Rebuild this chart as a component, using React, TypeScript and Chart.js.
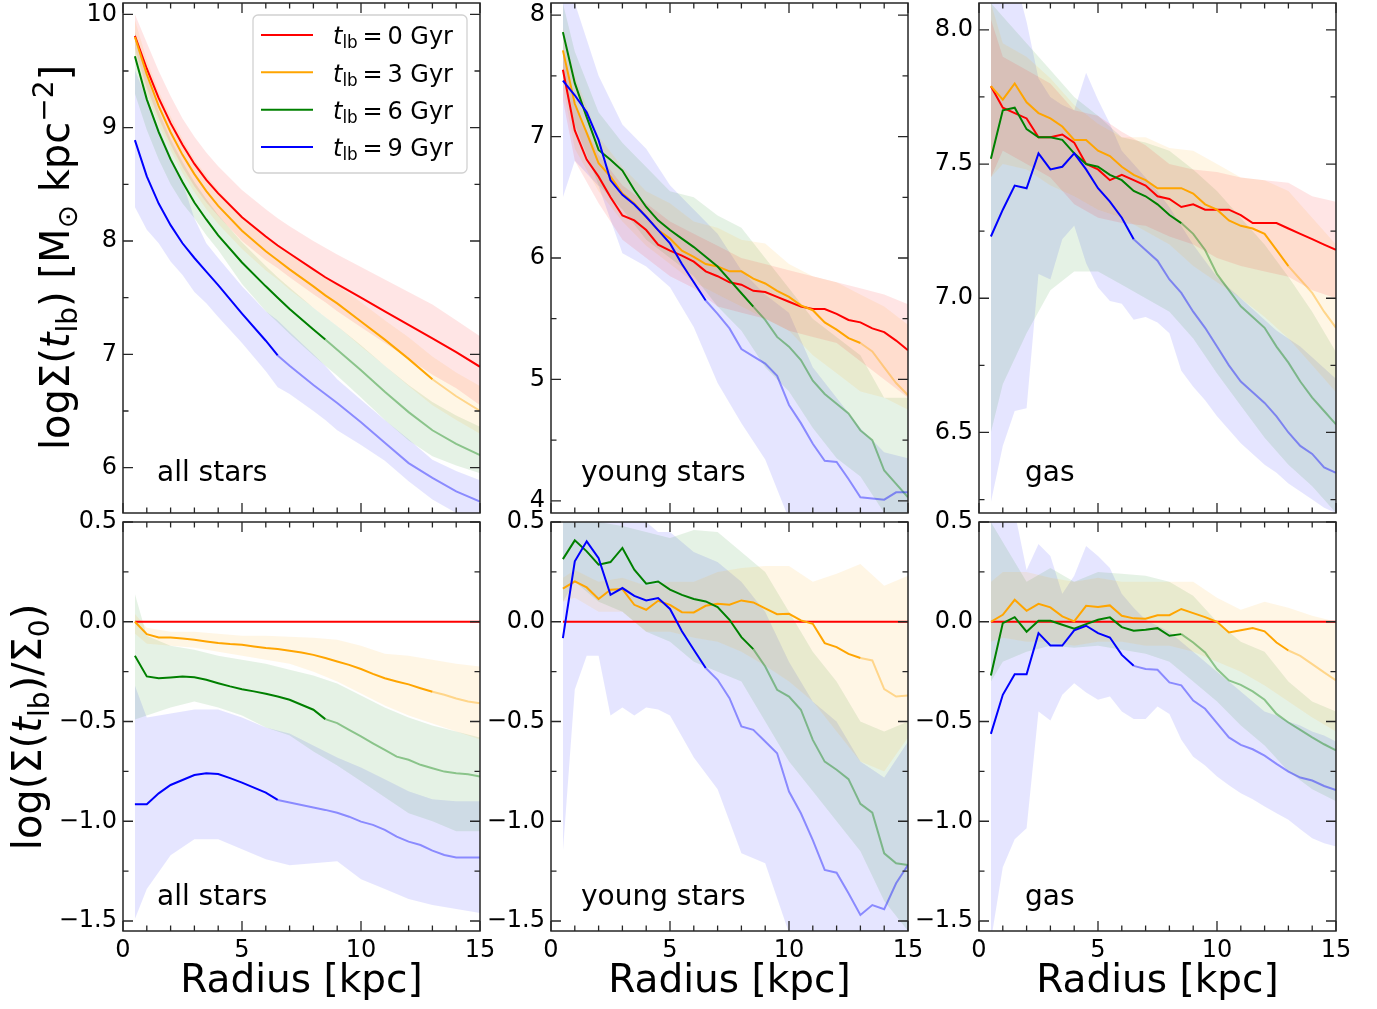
import React, { useEffect, useRef } from "react";
import { Chart, registerables } from "chart.js";
Chart.register(...registerables);

const FONT = "'DejaVu Sans', 'Liberation Sans', sans-serif";

// ---------- radial grids (kpc) ----------
const R_SMOOTH = [0.5, 1, 1.5, 2, 2.5, 3, 3.5, 4, 5, 6, 6.5, 7, 8, 8.5, 9, 10, 11, 12, 13, 14, 15];
const R_HALF = [0.5, 1, 1.5, 2, 2.5, 3, 3.5, 4, 4.5, 5, 5.5, 6, 6.5, 7, 7.5, 8, 8.5, 9, 9.5, 10, 10.5, 11, 11.5, 12, 12.5, 13, 13.5, 14, 14.5, 15];
const R_BAND = [0.5, 1, 2, 3, 4, 5, 6, 7, 8, 9, 10, 11, 12, 13, 14, 15];
const R_P5B = [0.5, 1, 1.5, 2, 2.5, 3, 3.5, 4, 4.5, 5, 6, 7, 8, 9, 10, 11, 12, 13, 14, 15];

// ---------- series meta ----------
const LOOKBACK_GYR = ["0", "3", "6", "9"];
const COLORS = ["#ff0000", "#ffa500", "#008000", "#0000ff"];
const FADED = ["rgba(255,0,0,0.4)", "rgba(255,165,0,0.4)", "rgba(0,128,0,0.4)", "rgba(0,0,255,0.4)"];
const BAND_COLORS = ["rgba(255,0,0,0.1)", "rgba(255,165,0,0.1)", "rgba(0,128,0,0.1)", "rgba(0,0,255,0.1)"];
const SOLID_UNTIL = [15, 13, 8.5, 6.5];

// ---------- panel 1: all stars, log Sigma ----------
const P1_RED = [9.81, 9.52, 9.26, 9.04, 8.85, 8.68, 8.54, 8.42, 8.21, 8.04, 7.96, 7.89, 7.75, 7.68, 7.62, 7.50, 7.38, 7.26, 7.14, 7.02, 6.89];
const P1_ORANGE = [9.80, 9.47, 9.19, 8.96, 8.76, 8.59, 8.44, 8.31, 8.09, 7.91, 7.83, 7.75, 7.60, 7.52, 7.45, 7.29, 7.13, 6.96, 6.78, 6.63, 6.50];
const P1_GREEN = [9.63, 9.25, 8.96, 8.72, 8.52, 8.34, 8.19, 8.05, 7.81, 7.60, 7.50, 7.40, 7.22, 7.13, 7.04, 6.86, 6.67, 6.49, 6.33, 6.21, 6.11];
const P1_BLUE = [8.89, 8.57, 8.33, 8.14, 7.98, 7.85, 7.73, 7.61, 7.36, 7.12, 6.99, 6.90, 6.73, 6.65, 6.57, 6.40, 6.22, 6.04, 5.91, 5.79, 5.70];
const P1_RED_HI = [10.0, 9.75, 9.5, 9.28, 9.08, 8.92, 8.78, 8.66, 8.45, 8.28, 8.2, 8.13, 8.0, 7.94, 7.88, 7.77, 7.66, 7.55, 7.44, 7.3, 7.16];
const P1_RED_LO = [9.7, 9.35, 9.08, 8.85, 8.65, 8.48, 8.34, 8.22, 8.0, 7.83, 7.76, 7.68, 7.53, 7.46, 7.38, 7.24, 7.1, 6.96, 6.82, 6.7, 6.55];
const P1_ORANGE_HI = [9.95, 9.6, 9.32, 9.1, 8.9, 8.72, 8.58, 8.45, 8.22, 8.05, 7.97, 7.9, 7.75, 7.68, 7.61, 7.46, 7.3, 7.15, 6.98, 6.84, 6.72];
const P1_ORANGE_LO = [9.65, 9.3, 9.02, 8.8, 8.6, 8.43, 8.28, 8.15, 7.93, 7.74, 7.66, 7.57, 7.41, 7.33, 7.25, 7.07, 6.9, 6.72, 6.55, 6.42, 6.3];
const P1_GREEN_HI = [9.85, 9.45, 9.15, 8.9, 8.7, 8.52, 8.37, 8.23, 7.99, 7.78, 7.68, 7.59, 7.41, 7.33, 7.25, 7.08, 6.9, 6.73, 6.58, 6.46, 6.36];
const P1_GREEN_LO = [9.3, 8.98, 8.72, 8.5, 8.33, 8.2, 8.05, 7.92, 7.62, 7.38, 7.28, 7.18, 6.99, 6.9, 6.81, 6.62, 6.42, 6.24, 6.1, 6.02, 5.95];
const P1_BLUE_HI = [9.51, 9.25, 9.0, 8.75, 8.52, 8.2, 7.98, 7.85, 7.6, 7.38, 7.3, 7.2, 7.0, 6.9, 6.78, 6.6, 6.42, 6.25, 6.07, 5.97, 5.89];
const P1_BLUE_LO = [8.30, 8.1, 7.98, 7.82, 7.7, 7.55, 7.45, 7.33, 7.1, 6.85, 6.71, 6.65, 6.5, 6.42, 6.33, 6.2, 6.06, 5.88, 5.72, 5.6, 5.5];

// ---------- panel 2: young stars, log Sigma ----------
const P2_RED = [7.55, 7.05, 6.81, 6.67, 6.50, 6.35, 6.31, 6.23, 6.11, 6.06, 6.02, 5.97, 5.89, 5.85, 5.80, 5.78, 5.73, 5.72, 5.68, 5.64, 5.60, 5.58, 5.58, 5.54, 5.49, 5.47, 5.42, 5.39, 5.32, 5.24];
const P2_ORANGE = [7.71, 7.27, 7.03, 6.78, 6.67, 6.53, 6.45, 6.34, 6.23, 6.16, 6.06, 6.01, 5.95, 5.93, 5.89, 5.89, 5.83, 5.79, 5.73, 5.68, 5.61, 5.57, 5.47, 5.41, 5.34, 5.30, 5.23, 5.10, 4.97, 4.87];
const P2_GREEN = [7.86, 7.44, 7.16, 6.89, 6.81, 6.72, 6.56, 6.42, 6.31, 6.23, 6.16, 6.09, 6.01, 5.93, 5.82, 5.71, 5.60, 5.49, 5.35, 5.27, 5.16, 4.99, 4.88, 4.80, 4.72, 4.58, 4.50, 4.25, 4.14, 4.03];
const P2_BLUE = [7.46, 7.34, 7.20, 6.97, 6.64, 6.52, 6.44, 6.34, 6.23, 6.12, 5.95, 5.80, 5.65, 5.54, 5.42, 5.25, 5.19, 5.13, 5.03, 4.79, 4.64, 4.47, 4.33, 4.32, 4.18, 4.03, 4.02, 4.01, 4.07, 4.07];
const P2_RED_HI = [7.7, 7.25, 6.85, 6.6, 6.45, 6.3, 6.2, 6.1, 6.0, 5.95, 5.9, 5.85, 5.8, 5.75, 5.7, 5.62];
const P2_RED_LO = [7.3, 6.8, 6.45, 6.15, 6.0, 5.85, 5.75, 5.6, 5.55, 5.5, 5.4, 5.35, 5.3, 5.15, 5.0, 4.85];
const P2_ORANGE_HI = [7.9, 7.5, 7.0, 6.75, 6.55, 6.45, 6.3, 6.25, 6.15, 6.12, 5.95, 5.85, 5.8, 5.7, 5.6, 5.45];
const P2_ORANGE_LO = [7.4, 6.9, 6.55, 6.3, 6.1, 5.95, 5.8, 5.7, 5.6, 5.5, 5.4, 5.2, 5.05, 4.9, 4.85, 4.75];
const P2_GREEN_HI = [8.1, 7.7, 7.2, 6.95, 6.75, 6.55, 6.5, 6.35, 6.25, 6.0, 5.75, 5.5, 5.35, 5.2, 4.85, 4.85];
const P2_GREEN_LO = [7.5, 7.1, 6.6, 6.4, 6.15, 6.0, 5.85, 5.6, 5.4, 5.1, 4.9, 4.6, 4.35, 4.2, 3.9, 3.8];
const P2_BLUE_HI = [8.3, 8.1, 7.5, 7.1, 6.9, 6.6, 6.4, 6.2, 5.9, 5.7, 5.55, 5.1, 4.85, 4.6, 4.4, 4.35];
const P2_BLUE_LO = [6.5, 6.8, 6.59, 6.04, 5.93, 5.76, 5.43, 4.97, 4.64, 4.34, 3.85, 3.7, 3.7, 3.7, 3.7, 3.7];

// ---------- panel 3: gas, log Sigma ----------
const P3_RED = [7.79, 7.71, 7.69, 7.67, 7.60, 7.60, 7.61, 7.58, 7.50, 7.48, 7.44, 7.46, 7.44, 7.42, 7.38, 7.37, 7.34, 7.35, 7.33, 7.33, 7.33, 7.31, 7.28, 7.28, 7.28, 7.26, 7.24, 7.22, 7.20, 7.18];
const P3_ORANGE = [7.79, 7.74, 7.80, 7.73, 7.69, 7.67, 7.64, 7.59, 7.59, 7.55, 7.53, 7.49, 7.46, 7.44, 7.41, 7.41, 7.41, 7.39, 7.35, 7.33, 7.29, 7.27, 7.26, 7.24, 7.18, 7.12, 7.07, 7.02, 6.95, 6.89];
const P3_GREEN = [7.52, 7.70, 7.71, 7.63, 7.60, 7.60, 7.59, 7.54, 7.50, 7.49, 7.46, 7.44, 7.40, 7.38, 7.35, 7.31, 7.28, 7.24, 7.18, 7.09, 7.03, 6.97, 6.93, 6.89, 6.82, 6.76, 6.69, 6.63, 6.58, 6.53];
const P3_BLUE = [7.23, 7.33, 7.42, 7.41, 7.54, 7.48, 7.49, 7.54, 7.48, 7.41, 7.36, 7.30, 7.22, 7.18, 7.14, 7.07, 7.02, 6.95, 6.89, 6.82, 6.75, 6.69, 6.65, 6.61, 6.56, 6.50, 6.45, 6.42, 6.37, 6.35];
const P3_RED_HI = [8.04, 7.9, 7.85, 7.8, 7.7, 7.68, 7.62, 7.57, 7.5, 7.48, 7.47, 7.45, 7.44, 7.43, 7.38, 7.36];
const P3_RED_LO = [7.45, 7.55, 7.5, 7.45, 7.35, 7.3, 7.28, 7.27, 7.23, 7.2, 7.15, 7.12, 7.1, 7.08, 7.03, 7.0];
const P3_ORANGE_HI = [8.1, 7.95, 7.9, 7.82, 7.72, 7.65, 7.6, 7.6, 7.56, 7.55, 7.5, 7.45, 7.44, 7.4, 7.3, 7.2];
const P3_ORANGE_LO = [7.45, 7.5, 7.48, 7.42, 7.38, 7.33, 7.3, 7.25, 7.2, 7.12, 7.06, 7.0, 6.93, 6.85, 6.75, 6.65];
const P3_GREEN_HI = [8.1, 8.05, 7.95, 7.85, 7.75, 7.68, 7.6, 7.58, 7.55, 7.48, 7.4, 7.3, 7.2, 7.08, 6.95, 6.8];
const P3_GREEN_LO = [6.5, 6.68, 6.87, 7.03, 7.1, 7.1, 7.05, 7.0, 6.95, 6.85, 6.72, 6.6, 6.48, 6.38, 6.3, 6.2];
const P3_BLUE_HI = [8.3, 8.3, 8.2, 8.03, 7.82, 7.75, 7.72, 7.70, 7.84, 7.74, 7.65, 7.55, 7.5, 7.45, 7.4, 7.34, 7.27, 7.2, 7.14, 7.08, 7.04, 7.0, 6.96, 6.92, 6.88, 6.85, 6.82, 6.78, 6.74, 6.7];
const P3_BLUE_LO = [6.24, 6.45, 6.58, 6.59, 7.09, 7.07, 7.22, 7.27, 7.13, 7.04, 6.99, 6.98, 6.92, 6.93, 6.91, 6.87, 6.73, 6.67, 6.62, 6.56, 6.51, 6.46, 6.42, 6.38, 6.35, 6.31, 6.28, 6.25, 6.22, 6.2];

// ---------- panel 4: all stars, log ratio ----------
const P4_RED = [0, 0, 0, 0, 0, 0, 0, 0, 0, 0, 0, 0, 0, 0, 0, 0, 0, 0, 0, 0, 0, 0, 0, 0, 0, 0, 0, 0, 0, 0];
const P4_ORANGE = [0.0, -0.062, -0.079, -0.079, -0.084, -0.09, -0.099, -0.107, -0.112, -0.115, -0.124, -0.132, -0.137, -0.145, -0.154, -0.166, -0.182, -0.199, -0.216, -0.237, -0.261, -0.283, -0.299, -0.314, -0.333, -0.351, -0.366, -0.385, -0.40, -0.408];
const P4_GREEN = [-0.171, -0.274, -0.283, -0.279, -0.274, -0.278, -0.291, -0.308, -0.324, -0.338, -0.349, -0.361, -0.375, -0.391, -0.416, -0.441, -0.488, -0.508, -0.542, -0.575, -0.609, -0.642, -0.676, -0.692, -0.717, -0.734, -0.751, -0.759, -0.764, -0.776];
const P4_BLUE = [-0.915, -0.915, -0.86, -0.818, -0.793, -0.768, -0.759, -0.763, -0.784, -0.806, -0.831, -0.856, -0.893, -0.906, -0.918, -0.931, -0.943, -0.957, -0.977, -1.002, -1.018, -1.043, -1.077, -1.102, -1.119, -1.147, -1.169, -1.181, -1.181, -1.181];
const P4_ORANGE_HI = [0.04, -0.03, -0.05, -0.05, -0.06, -0.07, -0.07, -0.075, -0.08, -0.09, -0.12, -0.16, -0.17, -0.19, -0.21, -0.224];
const P4_ORANGE_LO = [-0.06, -0.11, -0.12, -0.13, -0.15, -0.17, -0.19, -0.21, -0.25, -0.3, -0.36, -0.42, -0.47, -0.51, -0.55, -0.59];
const P4_GREEN_HI = [0.14, -0.07, -0.12, -0.14, -0.17, -0.19, -0.21, -0.24, -0.27, -0.31, -0.37, -0.43, -0.48, -0.52, -0.55, -0.58];
const P4_GREEN_LO = [-0.49, -0.47, -0.43, -0.40, -0.43, -0.47, -0.53, -0.57, -0.65, -0.72, -0.8, -0.88, -0.96, -1.0, -1.05, -1.05];
const P4_BLUE_HI = [-0.32, -0.48, -0.46, -0.44, -0.44, -0.48, -0.53, -0.56, -0.62, -0.68, -0.73, -0.79, -0.85, -0.89, -0.9, -0.9];
const P4_BLUE_LO = [-1.49, -1.34, -1.17, -1.09, -1.09, -1.14, -1.19, -1.22, -1.21, -1.2, -1.29, -1.34, -1.39, -1.42, -1.44, -1.46];

// ---------- panel 5: young stars, log ratio ----------
const P5_RED = [0, 0, 0, 0, 0, 0, 0, 0, 0, 0, 0, 0, 0, 0, 0, 0, 0, 0, 0, 0, 0, 0, 0, 0, 0, 0, 0, 0, 0, 0];
const P5_ORANGE = [0.166, 0.202, 0.172, 0.114, 0.161, 0.164, 0.085, 0.06, 0.105, 0.085, 0.048, 0.047, 0.08, 0.09, 0.085, 0.107, 0.097, 0.067, 0.038, 0.04, 0.007, -0.01, -0.107, -0.127, -0.161, -0.182, -0.194, -0.338, -0.375, -0.37];
const P5_GREEN = [0.314, 0.408, 0.353, 0.286, 0.299, 0.37, 0.261, 0.191, 0.202, 0.161, 0.135, 0.114, 0.102, 0.074, 0.01, -0.077, -0.137, -0.224, -0.341, -0.375, -0.441, -0.592, -0.701, -0.742, -0.789, -0.913, -0.957, -1.161, -1.211, -1.219];
const P5_BLUE = [-0.082, 0.303, 0.403, 0.319, 0.135, 0.169, 0.13, 0.107, 0.119, 0.064, -0.048, -0.14, -0.232, -0.291, -0.383, -0.525, -0.542, -0.6, -0.659, -0.851, -0.96, -1.094, -1.244, -1.258, -1.361, -1.47, -1.42, -1.441, -1.311, -1.219];
const P5_ORANGE_HI = [0.22, 0.26, 0.2, 0.22, 0.18, 0.2, 0.2, 0.25, 0.27, 0.28, 0.28, 0.2, 0.24, 0.29, 0.18, 0.23];
const P5_ORANGE_LO = [0.1, 0.12, 0.05, 0.05, -0.05, -0.05, -0.08, -0.1, -0.15, -0.22, -0.3, -0.4, -0.55, -0.7, -0.75, -0.58];
const P5_GREEN_HI = [0.55, 0.55, 0.5, 0.48, 0.45, 0.42, 0.46, 0.45, 0.35, 0.25, 0.05, -0.15, -0.3, -0.5, -0.55, -0.5];
const P5_GREEN_LO = [0.1, 0.2, 0.1, 0.05, -0.05, -0.1, -0.2, -0.25, -0.3, -0.5, -0.7, -0.85, -1.0, -1.15, -1.4, -1.55];
const P5_BLUE_HI = [0.55, 0.55, 0.55, 0.55, 0.55, 0.55, 0.55, 0.5, 0.45, 0.45, 0.35, 0.3, 0.2, 0.05, -0.2, -0.4, -0.5, -0.7, -0.78, -0.6];
const P5_BLUE_LO = [-1.152, -0.34, -0.17, -0.17, -0.47, -0.43, -0.47, -0.43, -0.44, -0.47, -0.68, -0.84, -1.16, -1.21, -1.56, -1.7, -1.7, -1.7, -1.7, -1.7];

// ---------- panel 6: gas, log ratio ----------
const P6_RED = [0, 0, 0, 0, 0, 0, 0, 0, 0, 0, 0, 0, 0, 0, 0, 0, 0, 0, 0, 0, 0, 0, 0, 0, 0, 0, 0, 0, 0, 0];
const P6_ORANGE = [0, 0.035, 0.11, 0.055, 0.09, 0.072, 0.027, 0.002, 0.08, 0.074, 0.082, 0.03, 0.017, 0.015, 0.033, 0.033, 0.064, 0.043, 0.023, 0, -0.054, -0.043, -0.032, -0.048, -0.104, -0.144, -0.171, -0.212, -0.254, -0.294];
const P6_GREEN = [-0.269, -0.007, 0.023, -0.05, 0.005, 0.005, -0.015, -0.035, -0.012, 0.01, 0.022, -0.027, -0.045, -0.04, -0.032, -0.07, -0.062, -0.104, -0.154, -0.237, -0.294, -0.316, -0.349, -0.391, -0.462, -0.505, -0.542, -0.579, -0.614, -0.645];
const P6_BLUE = [-0.562, -0.366, -0.263, -0.263, -0.057, -0.119, -0.119, -0.043, -0.02, -0.057, -0.079, -0.166, -0.221, -0.237, -0.241, -0.304, -0.319, -0.395, -0.436, -0.508, -0.58, -0.617, -0.639, -0.671, -0.712, -0.751, -0.781, -0.796, -0.823, -0.843];
const P6_ORANGE_HI = [0.2, 0.25, 0.25, 0.22, 0.2, 0.22, 0.2, 0.2, 0.2, 0.2, 0.12, 0.06, 0.1, 0.07, 0.03, 0.0];
const P6_ORANGE_LO = [-0.1, -0.08, -0.1, -0.1, -0.12, -0.1, -0.1, -0.12, -0.12, -0.15, -0.2, -0.25, -0.32, -0.4, -0.48, -0.55];
const P6_GREEN_HI = [0.5, 0.4, 0.2, 0.27, 0.2, 0.25, 0.24, 0.23, 0.2, 0.13, 0.0, -0.1, -0.15, -0.3, -0.4, -0.45];
const P6_GREEN_LO = [-0.3, -0.2, -0.15, -0.12, -0.13, -0.12, -0.14, -0.16, -0.2, -0.3, -0.4, -0.52, -0.62, -0.75, -0.84, -0.9];
const P6_BLUE_HI = [0.55, 0.55, 0.55, 0.26, 0.39, 0.33, 0.14, 0.23, 0.38, 0.33, 0.27, 0.14, 0.07, 0.01, -0.02, -0.05, -0.1, -0.15, -0.2, -0.25, -0.3, -0.35, -0.4, -0.45, -0.47, -0.5, -0.52, -0.55, -0.57, -0.6];
const P6_BLUE_LO = [-1.6, -1.23, -1.09, -1.035, -0.45, -0.495, -0.366, -0.308, -0.355, -0.391, -0.375, -0.45, -0.488, -0.488, -0.425, -0.462, -0.592, -0.676, -0.72, -0.776, -0.82, -0.86, -0.89, -0.926, -0.96, -0.993, -1.04, -1.085, -1.11, -1.127];

// ---------- axis ticks ----------
const X_MAJOR = [0, 5, 10, 15];
const Y_MAJOR_P1 = [6, 7, 8, 9, 10];
const Y_MAJOR_P2 = [4, 5, 6, 7, 8];
const Y_MAJOR_P3 = [6.5, 7.0, 7.5, 8.0];
const Y_MAJOR_REL = [-1.5, -1.0, -0.5, 0.0, 0.5];
const PANEL_LABELS = ["all stars", "young stars", "gas"];
const X_TITLE = "Radius [kpc]";

// ---------- layout (page px) ----------
const COL_L = [123, 551, 979];
const PANEL_W = 357;
const ROW_T = [3, 522];
const ROW_H = [510, 409];
const LABEL_X = [157, 581, 1025];
const LABEL_BASE = [481, 905];

type Band = { x: number[]; hi: number[]; lo: number[] } | null;
type Panel = {
  col: number; row: number; yMin: number; yMax: number; yMajor: number[]; yMinor: number; dec: number;
  lines: { x: number[]; y: number[] }[]; bands: Band[]; legend?: boolean;
};

const PANELS: Panel[] = [
  {
    col: 0, row: 0, yMin: 5.6, yMax: 10.1, yMajor: Y_MAJOR_P1, yMinor: 0.5, dec: 0, legend: true,
    lines: [P1_RED, P1_ORANGE, P1_GREEN, P1_BLUE].map((y) => ({ x: R_SMOOTH, y })),
    bands: [
      { x: R_SMOOTH, hi: P1_RED_HI, lo: P1_RED_LO },
      { x: R_SMOOTH, hi: P1_ORANGE_HI, lo: P1_ORANGE_LO },
      { x: R_SMOOTH, hi: P1_GREEN_HI, lo: P1_GREEN_LO },
      { x: R_SMOOTH, hi: P1_BLUE_HI, lo: P1_BLUE_LO },
    ],
  },
  {
    col: 1, row: 0, yMin: 3.9, yMax: 8.1, yMajor: Y_MAJOR_P2, yMinor: 0.5, dec: 0,
    lines: [P2_RED, P2_ORANGE, P2_GREEN, P2_BLUE].map((y) => ({ x: R_HALF, y })),
    bands: [
      { x: R_BAND, hi: P2_RED_HI, lo: P2_RED_LO },
      { x: R_BAND, hi: P2_ORANGE_HI, lo: P2_ORANGE_LO },
      { x: R_BAND, hi: P2_GREEN_HI, lo: P2_GREEN_LO },
      { x: R_BAND, hi: P2_BLUE_HI, lo: P2_BLUE_LO },
    ],
  },
  {
    col: 2, row: 0, yMin: 6.2, yMax: 8.1, yMajor: Y_MAJOR_P3, yMinor: 0.25, dec: 1,
    lines: [P3_RED, P3_ORANGE, P3_GREEN, P3_BLUE].map((y) => ({ x: R_HALF, y })),
    bands: [
      { x: R_BAND, hi: P3_RED_HI, lo: P3_RED_LO },
      { x: R_BAND, hi: P3_ORANGE_HI, lo: P3_ORANGE_LO },
      { x: R_BAND, hi: P3_GREEN_HI, lo: P3_GREEN_LO },
      { x: R_HALF, hi: P3_BLUE_HI, lo: P3_BLUE_LO },
    ],
  },
  {
    col: 0, row: 1, yMin: -1.55, yMax: 0.5, yMajor: Y_MAJOR_REL, yMinor: 0.25, dec: 1,
    lines: [P4_RED, P4_ORANGE, P4_GREEN, P4_BLUE].map((y) => ({ x: R_HALF, y })),
    bands: [
      null,
      { x: R_BAND, hi: P4_ORANGE_HI, lo: P4_ORANGE_LO },
      { x: R_BAND, hi: P4_GREEN_HI, lo: P4_GREEN_LO },
      { x: R_BAND, hi: P4_BLUE_HI, lo: P4_BLUE_LO },
    ],
  },
  {
    col: 1, row: 1, yMin: -1.55, yMax: 0.5, yMajor: Y_MAJOR_REL, yMinor: 0.25, dec: 1,
    lines: [P5_RED, P5_ORANGE, P5_GREEN, P5_BLUE].map((y) => ({ x: R_HALF, y })),
    bands: [
      null,
      { x: R_BAND, hi: P5_ORANGE_HI, lo: P5_ORANGE_LO },
      { x: R_BAND, hi: P5_GREEN_HI, lo: P5_GREEN_LO },
      { x: R_P5B, hi: P5_BLUE_HI, lo: P5_BLUE_LO },
    ],
  },
  {
    col: 2, row: 1, yMin: -1.55, yMax: 0.5, yMajor: Y_MAJOR_REL, yMinor: 0.25, dec: 1,
    lines: [P6_RED, P6_ORANGE, P6_GREEN, P6_BLUE].map((y) => ({ x: R_HALF, y })),
    bands: [
      null,
      { x: R_BAND, hi: P6_ORANGE_HI, lo: P6_ORANGE_LO },
      { x: R_BAND, hi: P6_GREEN_HI, lo: P6_GREEN_LO },
      { x: R_HALF, hi: P6_BLUE_HI, lo: P6_BLUE_LO },
    ],
  },
];

function geom(p: Panel) {
  const L = COL_L[p.col];
  const T = ROW_T[p.row];
  const H = ROW_H[p.row];
  const padL = p.col === 0 ? L : 62;
  const padR = 22;
  const padT = p.row === 0 ? 3 : 16;
  const padB = p.row === 0 ? 12 : 1009 - (T + H);
  return { L, T, H, padL, padR, padT, padB, left: L - padL, top: T - padT, w: padL + PANEL_W + padR, h: padT + H + padB };
}

type Part = { t: string; s?: number; it?: boolean; dy?: number };
function drawRich(ctx: CanvasRenderingContext2D, parts: Part[], size: number, x: number, y: number, center: boolean) {
  const fontOf = (p: Part) => `${p.it ? "italic " : ""}${(p.s || 1) * size}px ${FONT}`;
  const widths = parts.map((p) => {
    ctx.font = fontOf(p);
    return ctx.measureText(p.t).width;
  });
  const total = widths.reduce((a, b) => a + b, 0);
  let cx = center ? x - total / 2 : x;
  parts.forEach((p, k) => {
    ctx.font = fontOf(p);
    ctx.fillText(p.t, cx, y + (p.dy || 0) * size);
    cx += widths[k];
  });
}

const Y_TITLE_TOP: Part[] = [
  { t: "log\u03A3(" }, { t: "t", it: true }, { t: "lb", s: 0.7, dy: 0.2 }, { t: ") [M" },
  { t: "\u2299", s: 0.7, dy: 0.2 }, { t: " kpc" }, { t: "\u22122", s: 0.7, dy: -0.38 }, { t: "]" },
];
const Y_TITLE_BOTTOM: Part[] = [
  { t: "log(\u03A3(" }, { t: "t", it: true }, { t: "lb", s: 0.7, dy: 0.2 }, { t: ")/\u03A3" },
  { t: "0", s: 0.7, dy: 0.2 }, { t: ")" },
];

function makeDecor(p: Panel, g: ReturnType<typeof geom>) {
  return {
    id: "decor",
    afterDraw(chart: any) {
      const ctx: CanvasRenderingContext2D = chart.ctx;
      const a = chart.chartArea;
      const xs = chart.scales.x;
      const ys = chart.scales.y;
      ctx.save();
      ctx.strokeStyle = "#262626";
      ctx.lineWidth = 1.3;
      ctx.beginPath();
      for (let v = 0; v <= 15; v += 1) {
        const len = X_MAJOR.includes(v) ? 10 : 5.5;
        const px = xs.getPixelForValue(v);
        ctx.moveTo(px, a.bottom); ctx.lineTo(px, a.bottom - len);
        ctx.moveTo(px, a.top); ctx.lineTo(px, a.top + len);
      }
      const start = Math.ceil(p.yMin / p.yMinor - 1e-9);
      for (let k = start; k * p.yMinor <= p.yMax + 1e-9; k++) {
        const v = k * p.yMinor;
        const major = p.yMajor.some((m) => Math.abs(m - v) < 1e-6);
        const len = major ? 10 : 5.5;
        const py = ys.getPixelForValue(v);
        ctx.moveTo(a.left, py); ctx.lineTo(a.left + len, py);
        ctx.moveTo(a.right, py); ctx.lineTo(a.right - len, py);
      }
      ctx.stroke();
      ctx.lineWidth = 1.5;
      ctx.strokeRect(a.left, a.top, a.right - a.left, a.bottom - a.top);

      // texts in page coordinates
      ctx.translate(-g.left, -g.top);
      ctx.fillStyle = "#000";
      ctx.textAlign = "left";
      ctx.textBaseline = "alphabetic";
      ctx.font = `28px ${FONT}`;
      ctx.fillText(PANEL_LABELS[p.col], LABEL_X[p.col], LABEL_BASE[p.row]);

      if (p.row === 1) {
        ctx.font = `39px ${FONT}`;
        ctx.textAlign = "center";
        ctx.fillText(X_TITLE, g.L + PANEL_W / 2, 992);
        ctx.textAlign = "left";
      }
      if (p.col === 0) {
        ctx.save();
        if (p.row === 0) ctx.translate(68.5, 257.5);
        else ctx.translate(40.5, 727);
        ctx.rotate(-Math.PI / 2);
        drawRich(ctx, p.row === 0 ? Y_TITLE_TOP : Y_TITLE_BOTTOM, 40, 0, 0, true);
        ctx.restore();
      }
      if (p.legend) {
        const bx = 253, by = 15, bw = 214, bh = 158, r = 5;
        ctx.beginPath();
        ctx.moveTo(bx + r, by);
        ctx.arcTo(bx + bw, by, bx + bw, by + bh, r);
        ctx.arcTo(bx + bw, by + bh, bx, by + bh, r);
        ctx.arcTo(bx, by + bh, bx, by, r);
        ctx.arcTo(bx, by, bx + bw, by, r);
        ctx.closePath();
        ctx.fillStyle = "rgba(255,255,255,0.8)";
        ctx.fill();
        ctx.strokeStyle = "rgba(204,204,204,0.9)";
        ctx.lineWidth = 1.3;
        ctx.stroke();
        LOOKBACK_GYR.forEach((gyr, i) => {
          const cy = 35 + i * 37.33;
          ctx.strokeStyle = COLORS[i];
          ctx.lineWidth = 2;
          ctx.beginPath();
          ctx.moveTo(261, cy);
          ctx.lineTo(313, cy);
          ctx.stroke();
          ctx.fillStyle = "#000";
          drawRich(ctx, [{ t: "t", it: true }, { t: "lb", s: 0.7, dy: 0.17 }, { t: `\u2009=\u2009${gyr} Gyr` }], 24, 333, cy + 9.3, false);
        });
      }
      ctx.restore();
    },
  };
}

function makeChart(canvas: HTMLCanvasElement, p: Panel) {
  const g = geom(p);
  const datasets: any[] = [];
  p.bands.forEach((b, i) => {
    if (!b) return;
    datasets.push({
      data: b.x.map((x, k) => ({ x, y: b.hi[k] })),
      borderWidth: 0, pointRadius: 0, fill: "+1", backgroundColor: BAND_COLORS[i], order: 20,
    });
    datasets.push({
      data: b.x.map((x, k) => ({ x, y: b.lo[k] })),
      borderWidth: 0, pointRadius: 0, fill: false, order: 20,
    });
  });
  p.lines.forEach((l, i) => {
    datasets.push({
      data: l.x.map((x, k) => ({ x, y: l.y[k] })),
      borderColor: COLORS[i], borderWidth: 2, pointRadius: 0, fill: false, tension: 0,
      order: 10 - i,
      segment: {
        borderColor: (c: any) => (c.p1.parsed.x > SOLID_UNTIL[i] + 1e-6 ? FADED[i] : COLORS[i]),
      },
    });
  });
  const fmt = (v: number) => (p.dec === 0 ? String(v) : v.toFixed(1)).replace("-", "\u2212");
  return new Chart(canvas, {
    type: "line",
    data: { datasets },
    options: {
      animation: false,
      responsive: false,
      devicePixelRatio: 1,
      events: [],
      layout: { padding: { left: 0, top: g.padT, right: g.padR, bottom: 0 } },
      plugins: {
        legend: { display: false },
        tooltip: { enabled: false },
        filler: { propagate: false, drawTime: "beforeDatasetsDraw" },
      },
      scales: {
        x: {
          type: "linear", min: 0, max: 15,
          afterBuildTicks: (s: any) => { s.ticks = X_MAJOR.map((value) => ({ value })); },
          afterFit: (s: any) => { s.height = g.padB; s.paddingLeft = 0; s.paddingRight = 0; },
          ticks: {
            display: p.row === 1, autoSkip: false, maxRotation: 0, padding: 5, color: "#000",
            font: { family: FONT, size: 24 }, callback: (v: any) => String(v),
          },
          grid: { display: false, drawTicks: false },
          border: { display: false },
        },
        y: {
          type: "linear", min: p.yMin, max: p.yMax,
          afterBuildTicks: (s: any) => { s.ticks = p.yMajor.map((value) => ({ value })); },
          afterFit: (s: any) => { s.width = g.padL; s.paddingTop = 0; s.paddingBottom = 0; },
          ticks: {
            autoSkip: false, padding: 6, color: "#000",
            font: { family: FONT, size: 24 }, callback: (v: any) => fmt(Number(v)),
          },
          grid: { display: false, drawTicks: false },
          border: { display: false },
        },
      },
    } as any,
    plugins: [makeDecor(p, g) as any],
  });
}

export default function App() {
  const refs = useRef<(HTMLCanvasElement | null)[]>([]);
  useEffect(() => {
    const charts = PANELS.map((p, i) => makeChart(refs.current[i] as HTMLCanvasElement, p));
    return () => charts.forEach((c) => c.destroy());
  }, []);
  return (
    <div style={{ position: "absolute", left: 0, top: 0, width: 1377, height: 1009, background: "#fff", overflow: "hidden" }}>
      {PANELS.map((p, i) => {
        const g = geom(p);
        return (
          <canvas
            key={i}
            ref={(el) => { refs.current[i] = el; }}
            width={g.w}
            height={g.h}
            style={{ position: "absolute", left: g.left, top: g.top, width: g.w, height: g.h }}
          />
        );
      })}
    </div>
  );
}
